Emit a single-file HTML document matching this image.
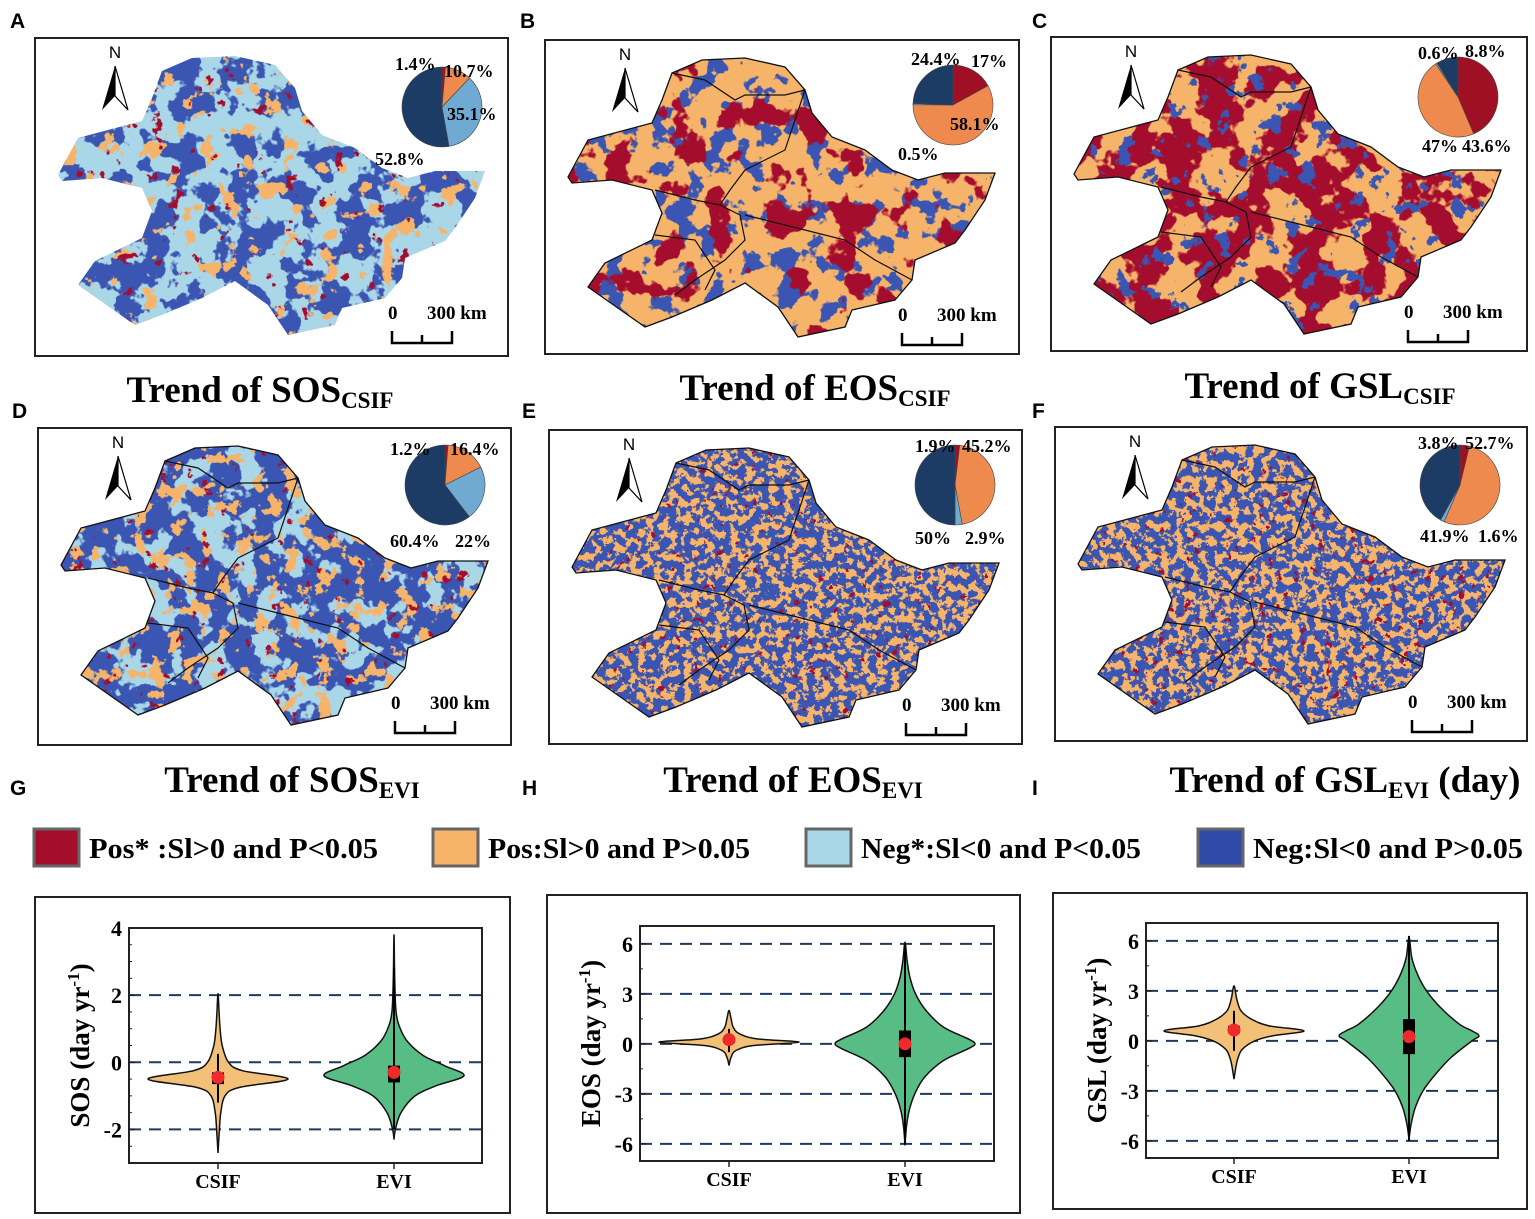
<!DOCTYPE html>
<html><head><meta charset="utf-8">
<style>
html,body{margin:0;padding:0;background:#fff;}
svg{display:block;font-family:"Liberation Serif",serif;}
</style></head>
<body>
<svg id="fig" xmlns="http://www.w3.org/2000/svg" width="1535" height="1219" viewBox="0 0 1535 1219">
<defs id="defs"></defs>
</svg>
<script>
// ---------- data ----------
const pieLabels = ['Pos*','Pos','Neg*','Neg'];
const pieA = [1.4, 10.7, 35.1, 52.8];
const pieB = [17, 58.1, 0.5, 24.4];
const pieC = [43.6, 47, 0.6, 8.8];
const pieD = [1.2, 16.4, 22, 60.4];
const pieE = [1.9, 45.2, 2.9, 50];
const pieF = [3.8, 52.7, 1.6, 41.9];
const legendLabels = ['Pos* :Sl>0 and P<0.05','Pos:Sl>0 and P>0.05','Neg*:Sl<0 and P<0.05','Neg:Sl<0 and P>0.05'];
const categories = ['CSIF','EVI'];
const ticksG = [-2, 0, 2, 4];
const ticksHI = [-6, -3, 0, 3, 6];
const sosCsifY = [-2.7,-2.0,-1.5,-1.0,-0.75,-0.5,-0.25,0,0.5,1.0,1.5,2.05];
const sosCsifD = [0,0.02,0.04,0.1,0.3,1,0.35,0.15,0.06,0.03,0.015,0];
const sosEviY = [-2.3,-2.0,-1.5,-1.0,-0.7,-0.4,-0.1,0.2,0.6,1.0,1.5,2.5,3.8];
const sosEviD = [0,0.02,0.1,0.3,0.6,1,0.72,0.42,0.2,0.09,0.03,0.01,0];
const eosCsifY = [-1.3,-0.8,-0.4,-0.1,0.1,0.3,0.6,1.0,1.5,2.0];
const eosCsifD = [0,0.03,0.1,0.35,1,0.4,0.15,0.06,0.03,0];
const eosEviY = [-6.1,-5,-4,-3,-2,-1,-0.3,0,0.3,1,2,3,4,5,6.1];
const eosEviD = [0,0.02,0.06,0.14,0.28,0.55,0.9,1,0.9,0.55,0.3,0.15,0.07,0.03,0];
const gslCsifY = [-2.3,-1.5,-1,-0.5,0,0.3,0.6,0.9,1.3,1.8,2.5,3.3];
const gslCsifD = [0,0.03,0.06,0.12,0.3,0.55,1,0.5,0.25,0.1,0.04,0];
const gslEviY = [-5.9,-5,-4,-3,-2,-1,0,0.3,0.6,1,2,3,4,5,6.2];
const gslEviD = [0,0.03,0.09,0.2,0.38,0.6,0.9,1,0.9,0.72,0.45,0.25,0.12,0.04,0];
const sosStats = [[-0.65,-0.3,-1.2,0.25,-0.45],[-0.6,-0.1,-2.0,2.8,-0.3]];
const eosStats = [[0.05,0.4,-0.5,0.9,0.25],[-0.8,0.8,-6,6,0]];
const gslStats = [[0.45,0.9,-0.6,1.8,0.65],[-0.8,1.3,-6,6.3,0.25]];

// ---------- helpers ----------
const NS='http://www.w3.org/2000/svg';
const svg=document.getElementById('fig');
const defs=document.getElementById('defs');
function mk(tag,attrs,parent){const e=document.createElementNS(NS,tag);for(const k in attrs)e.setAttribute(k,attrs[k]);(parent||svg).appendChild(e);return e;}

let fid=0;
function noiseFilter(freq,thr,seed){
  const id='nf'+(fid++);
  const f=mk('filter',{id:id,x:'0',y:'0',width:'100%',height:'100%'},defs);
  mk('feTurbulence',{type:'fractalNoise',baseFrequency:freq,numOctaves:'4',seed:seed,result:'n'},f);
  const k=25;
  mk('feColorMatrix',{in:'n',type:'matrix',values:`0 0 0 0 0 0 0 0 0 0 0 0 0 0 0 ${k} 0 0 0 ${-k*thr}`,result:'a'},f);
  mk('feComposite',{in:'SourceGraphic',in2:'a',operator:'in'},f);
  return id;
}

const pieCols=['#a01024','#ef8a4f','#70aad3','#1c3c66'];
const legCols=['#a50d2d','#f5b46a','#a9d7e8','#2f4aa8'];
const BLUE='#3a55b2',LB='#a9d7e8',OR='#f5b46a',RED='#a50d2d';

const shape=[[23,137],[43,100],[107,83],[117,60],[127,33],[157,20],[200,18],[240,27],[260,50],[267,73],[287,97],[320,110],[347,130],[373,140],[400,133],[450,133],[440,160],[420,190],[410,203],[370,220],[367,240],[350,260],[307,270],[300,287],[253,297],[233,267],[200,243],[167,260],[127,277],[100,287],[80,273],[43,247],[60,223],[107,200],[117,173],[107,150],[67,140],[27,143]];
const borders=[[[127,33],[160,40],[190,60],[200,55],[240,55],[260,50]],[[260,50],[250,80],[240,110],[200,130],[185,150],[175,165],[150,160],[110,150]],[[175,165],[195,175],[200,200],[180,220],[150,240],[130,255]],[[200,175],[260,190],[300,200],[330,220],[367,240]],[[110,195],[150,200],[170,230],[160,250]]];

const panels=[
 {L:'A',x:35,y:38,w:473,h:318,base:LB,layers:[[BLUE,0.035,0.5,3],[OR,0.05,0.635,9],[RED,0.06,0.71,15]],pie:pieA,pc:[442,107],lo:[[-47,-37],[2,-30],[5,13],[-67,58]],bord:false,title:'SOS',sub:'CSIF',tx:260,ty:402,lx:10,ly:28},
 {L:'B',x:545,y:40,w:474,h:314,base:OR,layers:[[BLUE,0.04,0.555,11],[RED,0.03,0.575,5]],pie:pieB,pc:[953,105],lo:[[18,-38],[-3,25],[-55,55],[-42,-40]],bord:true,title:'EOS',sub:'CSIF',tx:815,ty:400,lx:520,ly:28},
 {L:'C',x:1051,y:37,w:476,h:314,base:OR,layers:[[RED,0.03,0.47,7],[BLUE,0.06,0.62,21]],pie:pieC,pc:[1458,97],lo:[[4,55],[-36,55],[-40,-38],[7,-40]],bord:true,title:'GSL',sub:'CSIF',tx:1320,ty:398,lx:1032,ly:28},
 {L:'D',x:38,y:428,w:473,h:317,base:BLUE,layers:[[LB,0.035,0.52,13],[OR,0.06,0.59,17],[RED,0.07,0.71,19]],pie:pieD,pc:[445,485],lo:[[-55,-30],[5,-30],[10,62],[-55,62]],bord:true,title:'SOS',sub:'EVI',tx:292,ty:792,lx:12,ly:418},
 {L:'E',x:549,y:430,w:473,h:314,base:BLUE,layers:[[OR,0.13,0.505,27],[RED,0.12,0.71,31]],pie:pieE,pc:[955,485],lo:[[-40,-33],[7,-33],[10,59],[-40,59]],bord:true,title:'EOS',sub:'EVI',tx:793,ty:792,lx:522,ly:418},
 {L:'F',x:1055,y:427,w:472,h:314,base:BLUE,layers:[[OR,0.13,0.495,37],[RED,0.12,0.7,43]],pie:pieF,pc:[1460,485],lo:[[-42,-36],[5,-36],[18,57],[-40,57]],bord:true,title:'GSL',sub:'EVI',tx:1345,ty:792,lx:1032,ly:418,extra:' (day)'}
];

panels.forEach(p=>{
  const g=mk('g',{});
  
  
  const lab=mk('text',{x:p.lx,y:p.ly,'font-family':'Liberation Sans, sans-serif','font-weight':'bold','font-size':'21'},g);
  lab.textContent=p.L;
  
  
  const box=mk('rect',{x:p.x,y:p.y,width:p.w,height:p.h,fill:'#fff',stroke:'#222','stroke-width':2},g);
  
  
  const pts=shape.map(q=>(p.x+q[0])+','+(p.y+q[1])).join(' ');
  const base=mk('polygon',{points:pts,fill:p.base},g);
  
  
  p.layers.forEach(l=>{
    const id=noiseFilter(l[1],l[2],l[3]);
    const lay=mk('g',{filter:'url(#'+id+')'},g);
    mk('polygon',{points:pts,fill:l[0]},lay);
  });
  if(p.bord){
    mk('polygon',{points:pts,fill:'none',stroke:'#111','stroke-width':1.3},g);
    borders.forEach(b=>{mk('polyline',{points:b.map(q=>(p.x+q[0])+','+(p.y+q[1])).join(' '),fill:'none',stroke:'#111','stroke-width':1.2},g);});
  }
  const na=mk('g',{},g);
  
  
  const nx=p.x+80, ny=p.y+20;
  const nt=mk('text',{x:nx,y:ny,'text-anchor':'middle','font-family':'Liberation Sans, sans-serif','font-size':'17'},na); nt.textContent='N';
  mk('polygon',{points:`${nx},${ny+8} ${nx-13},${ny+52} ${nx},${ny+38}`,fill:'#000'},na);
  mk('polygon',{points:`${nx},${ny+8} ${nx+13},${ny+52} ${nx},${ny+38}`,fill:'#fff',stroke:'#000','stroke-width':1.2},na);
  const sb=mk('g',{},g);
  
  
  const bx=p.x+357, by=p.y+305;
  mk('polyline',{points:`${bx},${by-12} ${bx},${by} ${bx+60},${by} ${bx+60},${by-12}`,fill:'none',stroke:'#000','stroke-width':2.5},sb);
  mk('line',{x1:bx+30,y1:by,x2:bx+30,y2:by-8,stroke:'#000','stroke-width':2.5},sb);
  let t=mk('text',{x:bx-4,y:by-24,'font-weight':'bold','font-size':'19'},sb); t.textContent='0';
  t=mk('text',{x:bx+35,y:by-24,'font-weight':'bold','font-size':'19'},sb); t.textContent='300  km';
  const pg=mk('g',{},g);
  
  
  const cx=p.pc[0], cy=p.pc[1], r=40;
  const tot=p.pie.reduce((a,b)=>a+b,0);
  let a0=-Math.PI/2;
  p.pie.forEach((v,i)=>{
    const a1=a0+v/tot*2*Math.PI;
    const large=(a1-a0)>Math.PI?1:0;
    const d=`M${cx},${cy} L${cx+r*Math.cos(a0)},${cy+r*Math.sin(a0)} A${r},${r} 0 ${large} 1 ${cx+r*Math.cos(a1)},${cy+r*Math.sin(a1)} Z`;
    const s=mk('path',{d:d,fill:pieCols[i],stroke:'#444','stroke-width':0.6},pg);
    
    
    a0=a1;
  });
  p.pie.forEach((v,i)=>{
    const tt=mk('text',{x:cx+p.lo[i][0],y:cy+p.lo[i][1],'font-weight':'bold','font-size':'18'},pg);
    tt.textContent=v+'%';
    
    
  });
  const tl=mk('text',{x:p.tx,y:p.ty,'text-anchor':'middle','font-weight':'bold','font-size':'37'},svg);
  
  
  const t1=mk('tspan',{},tl); t1.textContent='Trend of '+p.title;
  const t2=mk('tspan',{'font-size':'23',dy:'6'},tl); t2.textContent=p.sub;
  if(p.extra){const t3=mk('tspan',{dy:'-6'},tl); t3.textContent=p.extra;}
});

[['G',10,795],['H',522,795],['I',1032,795]].forEach(q=>{
  const t=mk('text',{x:q[1],y:q[2],'font-family':'Liberation Sans, sans-serif','font-weight':'bold','font-size':'21'});
  t.textContent=q[0];
  
  
});

const legX=[33,432,805,1197];
const legW=[289,262,280,270];
legendLabels.forEach((s,i)=>{
  const g=mk('g',{});
  
  
  mk('rect',{x:legX[i]+1,y:829,width:45,height:37,fill:legCols[i],stroke:'#666','stroke-width':3},g);
  const t=mk('text',{x:legX[i]+56,y:858,'font-weight':'bold','font-size':'29',textLength:legW[i],lengthAdjust:'spacingAndGlyphs'},g);
  t.textContent=s;
});

function violinPanel(cfg){
  const g=mk('g',{});
  
  
  const ob=mk('rect',{x:cfg.bx,y:cfg.by,width:cfg.bw,height:cfg.bh,fill:'#fff',stroke:'#222','stroke-width':2},g);
  
  
  const X0=cfg.fx0,X1=cfg.fx1,Y0=cfg.fy0,Y1=cfg.fy1;
  const ys=v=>Y1-(v-cfg.ymin)/(cfg.ymax-cfg.ymin)*(Y1-Y0);
  const xs=i=>cfg.cx[i];
  cfg.dash.forEach(v=>{
    const l=mk('line',{x1:X0,x2:X1,y1:ys(v),y2:ys(v),stroke:'#1f3a5c','stroke-width':2,'stroke-dasharray':'12,8'},g);
    
    
  });
  cfg.violins.forEach((vv,i)=>{
    const Ys=vv[0],Ds=vv[1],col=vv[2],st=vv[3];
    const c=xs(i),hw=70;
    const ptsR=Ys.map((y,k)=>[c+Ds[k]*hw,ys(y)]);
    const ptsL=Ys.map((y,k)=>[c-Ds[k]*hw,ys(y)]).reverse();
    const all=ptsR.concat(ptsL.slice(1));
    let d=`M${all[0][0]},${all[0][1]}`;
    for(let k=0;k<all.length-1;k++){
      const p0=all[Math.max(k-1,0)],p1=all[k],p2=all[k+1],p3=all[Math.min(k+2,all.length-1)];
      d+=` C${p1[0]+(p2[0]-p0[0])/6},${p1[1]+(p2[1]-p0[1])/6} ${p2[0]-(p3[0]-p1[0])/6},${p2[1]-(p3[1]-p1[1])/6} ${p2[0]},${p2[1]}`;
    }
    d+='Z';
    const vp=mk('path',{d:d,fill:col,stroke:'#111','stroke-width':1.5},g);
    
    
    const wl=mk('line',{x1:c,x2:c,y1:ys(st[2]),y2:ys(st[3]),stroke:'#000','stroke-width':2},g);
    
    
    const bx=mk('rect',{x:c-6,y:ys(st[1]),width:12,height:ys(st[0])-ys(st[1]),fill:'#000'},g);
    
    
    const mp=mk('circle',{cx:c,cy:ys(st[4]),r:6.5,fill:'#ee2a2a'},g);
    
    
  });
  mk('rect',{x:X0,y:Y0,width:X1-X0,height:Y1-Y0,fill:'none',stroke:'#222','stroke-width':2},g);
  cfg.ticks.forEach(v=>{
    mk('line',{x1:X0,x2:X0+6,y1:ys(v),y2:ys(v),stroke:'#222','stroke-width':1.5},g);
    const t=mk('text',{x:X0-7,y:ys(v)+8,'text-anchor':'end','font-weight':'bold','font-size':'22'},g);
    t.textContent=v;
    
    
  });
  for(let v=Math.ceil(cfg.ymin/cfg.minor)*cfg.minor; v<=cfg.ymax; v+=cfg.minor){
    mk('line',{x1:X0,x2:X0+3,y1:ys(v),y2:ys(v),stroke:'#222','stroke-width':1},g);
  }
  categories.forEach((cName,i)=>{
    mk('line',{x1:xs(i),x2:xs(i),y1:Y1,y2:Y1+6,stroke:'#222','stroke-width':1.5},g);
    const t=mk('text',{x:xs(i),y:Y1+25,'text-anchor':'middle','font-weight':'bold','font-size':'20'},g);
    t.textContent=cName;
    
    
  });
  const yt=mk('text',{x:0,y:0,transform:`translate(${X0-40},${(Y0+Y1)/2}) rotate(-90)`,'text-anchor':'middle','font-weight':'bold','font-size':'27'},g);
  
  
  const a=mk('tspan',{},yt); a.textContent=cfg.ylab+' (day yr';
  const b=mk('tspan',{dy:'-10','font-size':'17'},yt); b.textContent='-1';
  const c2=mk('tspan',{dy:'10'},yt); c2.textContent=')';
}

violinPanel({id:'g',bx:35,by:897,bw:475,bh:316,fx0:129,fx1:482,fy0:928,fy1:1163,ymin:-3,ymax:4,cx:[218,394],ticks:ticksG,dash:[-2,0,2],minor:0.5,ylab:'SOS',
  violins:[[sosCsifY,sosCsifD,'#f3c077',sosStats[0]],[sosEviY,sosEviD,'#58bd85',sosStats[1]]]});
violinPanel({id:'h',bx:547,by:895,bw:473,bh:318,fx0:640,fx1:994,fy0:926,fy1:1161,ymin:-7.03,ymax:7.07,cx:[729,905],ticks:ticksHI,dash:ticksHI,minor:1.5,ylab:'EOS',
  violins:[[eosCsifY,eosCsifD,'#f3c077',eosStats[0]],[eosEviY,eosEviD,'#58bd85',eosStats[1]]]});
violinPanel({id:'i',bx:1053,by:893,bw:474,bh:316,fx0:1146,fx1:1498,fy0:923,fy1:1158,ymin:-7.03,ymax:7.07,cx:[1234,1409],ticks:ticksHI,dash:ticksHI,minor:1.5,ylab:'GSL',
  violins:[[gslCsifY,gslCsifD,'#f3c077',gslStats[0]],[gslEviY,gslEviD,'#58bd85',gslStats[1]]]});
</script>
</body></html>
